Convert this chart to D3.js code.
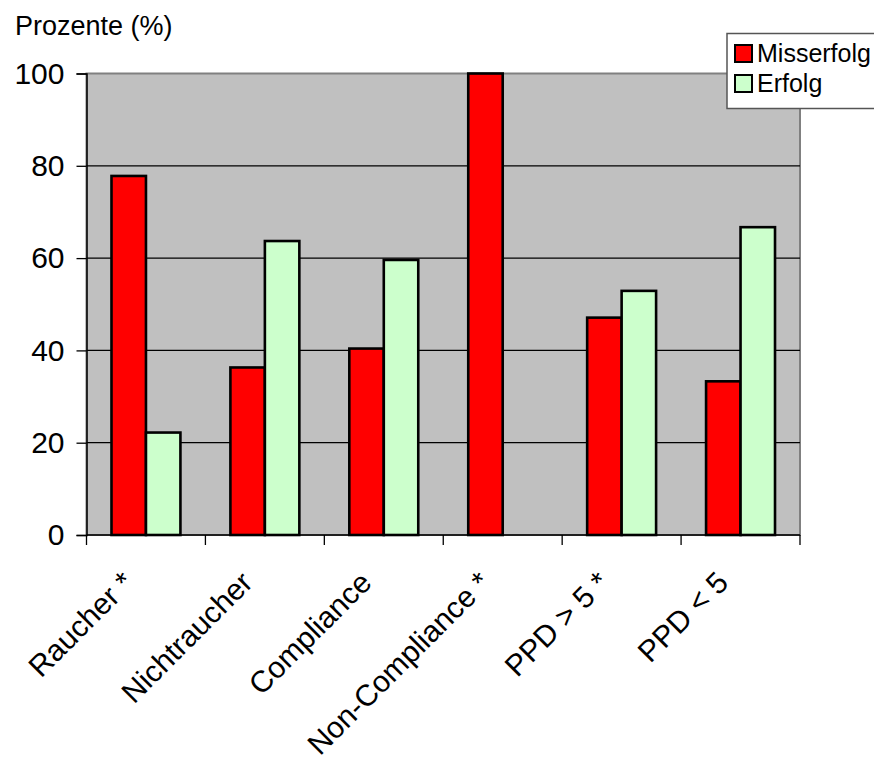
<!DOCTYPE html>
<html>
<head>
<meta charset="utf-8">
<script src="https://cdn.jsdelivr.net/npm/d3@7"></script>
<style>
  html, body { margin: 0; padding: 0; background: #fff; }
  svg { display: block; font-family: "Liberation Sans", Arial, sans-serif; }
</style>
</head>
<body>
<svg id="chart" width="874" height="769"></svg>
<script>
// Categories and percentage values per outcome group
const categories = ["Raucher *", "Nichtraucher", "Compliance", "Non-Compliance *", "PPD > 5 *", "PPD < 5"];
const misserfolg = [77.8, 36.3, 40.4, 100, 47.1, 33.3];
const erfolg = [22.2, 63.7, 59.6, 0, 52.9, 66.7];
const seriesNames = ["Misserfolg", "Erfolg"];
const seriesColors = ["#FF0000", "#CCFFCC"];
const yTicks = [0, 20, 40, 60, 80, 100];

const svg = d3.select("#chart");
const plot = { left: 86.5, right: 800, top: 73.5, bottom: 535 };

const x = d3.scaleBand().domain(categories).range([plot.left, plot.right]).paddingInner(0).paddingOuter(0);
const barW = x.bandwidth() / 3.45;
const y = d3.scaleLinear().domain([0, 100]).range([plot.bottom, plot.top]);

// Plot background
svg.append("rect")
  .attr("x", plot.left).attr("y", plot.top)
  .attr("width", plot.right - plot.left).attr("height", plot.bottom - plot.top)
  .attr("fill", "#C0C0C0").attr("stroke", "#808080").attr("stroke-width", 2);

// Horizontal gridlines
svg.append("g").selectAll("line").data(yTicks.filter(d => d > 0 && d < 100)).join("line")
  .attr("x1", plot.left).attr("x2", plot.right)
  .attr("y1", d => y(d)).attr("y2", d => y(d))
  .attr("stroke", "#000").attr("stroke-width", 1.3);

// Bars
const rows = categories.map((c, i) => ({ c, vals: [misserfolg[i], erfolg[i]] }));
const groups = svg.append("g").selectAll("g").data(rows).join("g");
groups.selectAll("rect").data(d => d.vals.map((v, k) => ({ c: d.c, v, k })).filter(d => d.v > 0)).join("rect")
  .attr("x", d => x(d.c) + x.bandwidth() / 2 - barW + d.k * barW)
  .attr("y", d => y(d.v))
  .attr("width", barW)
  .attr("height", d => y(0) - y(d.v))
  .attr("fill", d => seriesColors[d.k])
  .attr("stroke", "#000").attr("stroke-width", 2.6);

// Y axis
const yAxis = d3.axisLeft(y).tickValues(yTicks).tickSize(10).tickPadding(12).tickFormat(d3.format("d"));
const yg = svg.append("g").attr("transform", `translate(${plot.left},0)`).call(yAxis);
yg.select(".domain").attr("stroke", "#000").attr("stroke-width", 1.5);
yg.selectAll(".tick line").attr("stroke", "#000").attr("stroke-width", 1.3);
yg.selectAll(".tick text").attr("font-size", 30).attr("fill", "#000")
  .attr("font-family", "Liberation Sans, Arial, sans-serif");

// X axis with category boundary ticks
const boundaries = categories.map(c => x(c)).concat([plot.right]);
svg.append("line").attr("x1", plot.left).attr("x2", plot.right)
  .attr("y1", plot.bottom).attr("y2", plot.bottom)
  .attr("stroke", "#000").attr("stroke-width", 1.5);
svg.append("g").selectAll("line").data(boundaries).join("line")
  .attr("x1", d => d).attr("x2", d => d)
  .attr("y1", plot.bottom).attr("y2", plot.bottom + 10)
  .attr("stroke", "#000").attr("stroke-width", 1.3);

// Rotated category labels
svg.append("g").selectAll("text").data(categories).join("text")
  .attr("transform", d => `translate(${x(d) + x.bandwidth() / 2 - 18},${plot.bottom + 42}) rotate(-45)`)
  .attr("text-anchor", "end")
  .attr("dy", "0.35em")
  .attr("font-size", 30)
  .text(d => d);

// Axis title
svg.append("text").attr("x", 15).attr("y", 35).attr("font-size", 27).text("Prozente (%)");

// Legend
const lg = svg.append("g");
lg.append("rect").attr("x", 727).attr("y", 33.5).attr("width", 160).attr("height", 75)
  .attr("fill", "#fff").attr("stroke", "#555").attr("stroke-width", 1.5);
seriesNames.forEach((name, i) => {
  const yy = 45 + i * 30;
  lg.append("rect").attr("x", 735).attr("y", yy).attr("width", 17).attr("height", 17)
    .attr("fill", seriesColors[i]).attr("stroke", "#000").attr("stroke-width", 2);
  lg.append("text").attr("x", 757).attr("y", yy + 17).attr("font-size", 25).text(name);
});
</script>
</body>
</html>
